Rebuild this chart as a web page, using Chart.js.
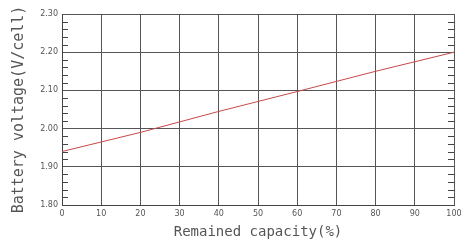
<!DOCTYPE html>
<html>
<head>
<meta charset="utf-8">
<script src="https://cdn.jsdelivr.net/npm/chart.js@4/dist/chart.umd.min.js"></script>
<style>
  html, body { margin: 0; padding: 0; background: #fff; }
  #wrap { width: 470px; height: 245px; }
</style>
</head>
<body>
<div id="wrap"><canvas id="myChart"></canvas></div>
<script>
  // Data
  const capacity = [0, 20, 40, 60, 80, 100]
  const voltage = [1.94, 1.99, 2.045, 2.097, 2.15, 2.20]
  const xTicks = [0, 10, 20, 30, 40, 50, 60, 70, 80, 90, 100]
  const yTicks = [1.80, 1.90, 2.00, 2.10, 2.20, 2.30]
  const yMinor = []
  for (let i = 0; i < yTicks.length - 1; i++) {
    for (let k = 1; k < 5; k++) yMinor.push(yTicks[i] + k * 0.02)
  }

  // small inward ticks on the left and right axes
  const minorTicks = {
    id: 'minorTicks',
    afterDraw (chart) {
      const { ctx, chartArea, scales } = chart
      ctx.save()
      ctx.strokeStyle = '#444'
      ctx.lineWidth = 1
      ctx.beginPath()
      yMinor.forEach(v => {
        const y = Math.round(scales.y.getPixelForValue(v)) + 0.5
        ctx.moveTo(chartArea.left, y)
        ctx.lineTo(chartArea.left + 6, y)
        ctx.moveTo(chartArea.right, y)
        ctx.lineTo(chartArea.right - 6, y)
      })
      ctx.stroke()
      ctx.restore()
    }
  }

  const ctx = document.getElementById('myChart')
  new Chart(ctx, {
    type: 'line',
    data: {
      datasets: [{
        data: capacity.map((c, i) => ({ x: c, y: voltage[i] })),
        borderColor: '#c84848',
        borderWidth: 1,
        pointRadius: 0,
        tension: 0
      }]
    },
    options: {
      responsive: true,
      maintainAspectRatio: false,
      animation: false,
      layout: { padding: { top: 14, right: 16, left: 0, bottom: 0 } },
      plugins: { legend: { display: false }, tooltip: { enabled: false } },
      scales: {
        x: {
          type: 'linear',
          min: 0,
          max: 100,
          afterBuildTicks: s => { s.ticks = xTicks.map(v => ({ value: v })) },
          afterFit: s => { s.height = 40 },
          grid: { color: '#555', drawTicks: false },
          border: { color: '#444' },
          ticks: { padding: 4, color: '#555', font: { family: 'DejaVu Sans', size: 8 } },
          title: {
            display: true,
            text: 'Remained capacity(%)',
            color: '#555',
            padding: { top: 3 },
            font: { family: 'DejaVu Sans Mono', size: 14 }
          }
        },
        y: {
          min: 1.8,
          max: 2.3,
          afterBuildTicks: s => { s.ticks = yTicks.map(v => ({ value: v })) },
          afterFit: s => { s.width = 62 },
          grid: { color: '#555', drawTicks: false },
          border: { color: '#444' },
          ticks: {
            padding: 4,
            color: '#555',
            font: { family: 'DejaVu Sans', size: 8 },
            callback: v => v.toFixed(2)
          },
          title: {
            display: true,
            text: 'Battery voltage(V/cell)',
            color: '#555',
            padding: { top: 10, bottom: 0 },
            font: { family: 'DejaVu Sans Mono', size: 15 }
          }
        }
      }
    },
    plugins: [minorTicks]
  })
</script>
</body>
</html>
